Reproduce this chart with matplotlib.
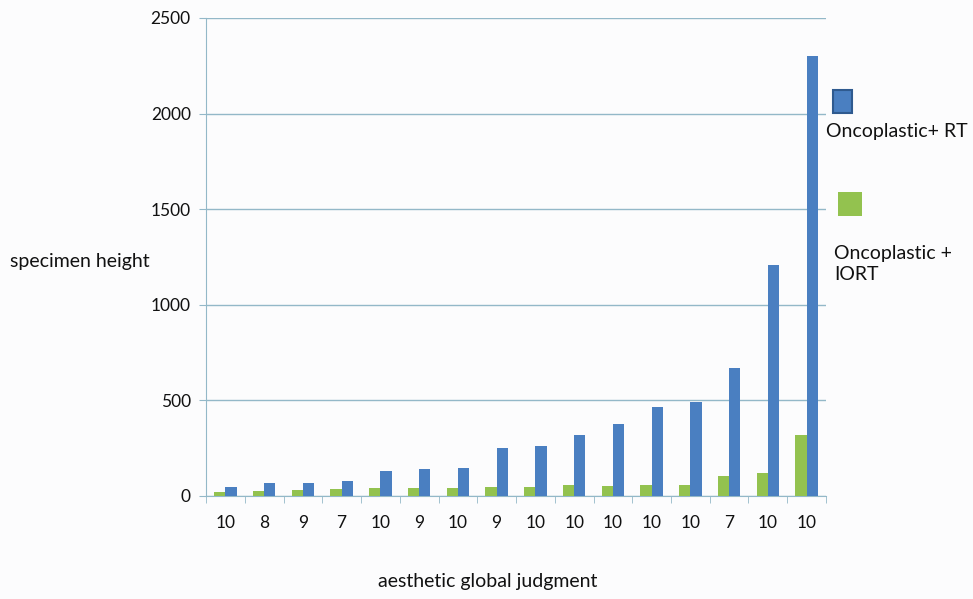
import numpy as np
import matplotlib
matplotlib.use('Agg')
from matplotlib import pyplot as plt

# values
judgment = ['10', '8', '9', '7', '10', '9', '10', '9', '10', '10',
            '10', '10', '10', '7', '10', '10']
onco_rt = [49, 66, 70, 80, 129, 140, 148, 249, 260, 317,
           375, 467, 491, 669, 1210, 2301]
onco_iort = [21, 26, 31, 35, 40, 40, 42, 49, 49, 56,
             54, 57, 59, 105, 122, 319]
yticks = [0, 500, 1000, 1500, 2000, 2500]

blue = '#4a7fc1'
green = '#93c24f'
axcol = '#93b8c8'

plt.rcParams['font.family'] = ['Lato', 'DejaVu Sans']

fig = plt.figure(figsize=(9.73, 5.99), dpi=100)
fig.patch.set_facecolor('#fcfcfd')
ax = fig.add_axes([206/973, 1-496/599, 620/973, 478/599])
ax.set_facecolor('#fcfcfd')

x = np.arange(len(judgment))
w = 0.29
ax.bar(x - w/2, onco_iort, w, color=green, zorder=3)
ax.bar(x + w/2, onco_rt, w, color=blue, zorder=3)

ax.set_xlim(-0.5, len(judgment) - 0.5)
ax.set_ylim(0, 2500)
ax.set_yticks(yticks)
ax.set_yticklabels([str(v) for v in yticks], fontsize=12.5, color='#111111')
ax.yaxis.grid(True, color=axcol, lw=1.0, zorder=0)

ax.set_xticks(x)
ax.set_xticklabels(judgment, fontsize=12.5, color='#111111')
ax.set_xticks(np.arange(len(judgment) + 1) - 0.5, minor=True)
ax.tick_params(axis='x', which='major', length=0, pad=14)
ax.tick_params(axis='x', which='minor', length=5, color=axcol, direction='out')
ax.tick_params(axis='y', length=5, color=axcol, pad=6)

for s in ['top', 'right']:
    ax.spines[s].set_visible(False)
ax.spines['left'].set_color(axcol)
ax.spines['bottom'].set_color(axcol)

# legend drawn as in the original, squares with text underneath
fig.patches.append(plt.Rectangle((833/973, 1-113/599), 19/973, 23/599,
                                 transform=fig.transFigure, facecolor=blue,
                                 edgecolor='#2f5a8f', lw=1.5))
fig.text(826/973, 1-131/599, 'Oncoplastic+ RT', fontsize=14, va='center',
         color='#111111')
fig.patches.append(plt.Rectangle((838/973, 1-216/599), 24/973, 24/599,
                                 transform=fig.transFigure, facecolor=green,
                                 edgecolor='none'))
fig.text(834/973, 1-264/599, 'Oncoplastic +\nIORT', fontsize=14, va='center',
         linespacing=1.35, color='#111111')

fig.text(10/973, 1-262/599, 'specimen height', fontsize=14, va='center',
         color='#111111')
fig.text(488/973, 1-582/599, 'aesthetic global judgment', fontsize=14,
         ha='center', va='center', color='#111111')

fig.savefig('out.png', dpi=100, facecolor=fig.get_facecolor())
